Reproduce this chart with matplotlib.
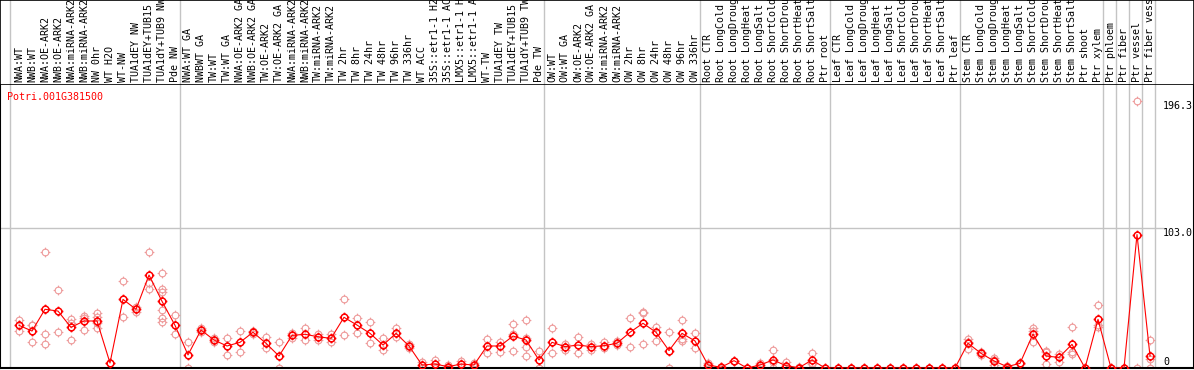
import matplotlib
matplotlib.use('Agg')
import matplotlib.pyplot as plt
from matplotlib.path import Path
import numpy as np

gene_id = 'Potri.001G381500'

labels = ['NWA:WT', 'NWB:WT', 'NWA:OE-ARK2', 'NWB:OE-ARK2', 'NWA:miRNA-ARK2', 'NWB:miRNA-ARK2',
          'NW 0hr', 'WT H2O', 'WT-NW', 'TUA1dEY NW', 'TUA1dEY+TUB15 NW', 'TUA1dY+TUB9 NW', 'Pde NW',
          'NWA:WT GA', 'NWBWT GA', 'TW:WT', 'TW:WT GA', 'NWA:OE-ARK2 GA', 'NWB:OE-ARK2 GA',
          'TW:OE-ARK2', 'TW:OE-ARK2 GA', 'NWA:miRNA-ARK2', 'NWB:miRNA-ARK2', 'TW:miRNA-ARK2',
          'TW:miRNA-ARK2', 'TW 2hr', 'TW 8hr', 'TW 24hr', 'TW 48hr', 'TW 96hr', 'TW 336hr', 'WT ACC',
          '35S::etr1-1 H2O', '35S::etr1-1 ACC', 'LMX5::etr1-1 H2O', 'LMX5::etr1-1 ACC', 'WT-TW',
          'TUA1dEY TW', 'TUA1dEY+TUB15 TW', 'TUA1dY+TUB9 TW', 'Pde TW',
          'OW:WT', 'OW:WT GA', 'OW:OE-ARK2', 'OW:OE-ARK2 GA', 'OW:miRNA-ARK2', 'OW:miRNA-ARK2',
          'OW 2hr', 'OW 8hr', 'OW 24hr', 'OW 48hr', 'OW 96hr', 'OW 336hr',
          'Root CTR', 'Root LongCold', 'Root LongDrought', 'Root LongHeat', 'Root LongSalt',
          'Root ShortCold', 'Root ShortDrought', 'Root ShortHeat', 'Root ShortSalt', 'Ptr root',
          'Leaf CTR', 'Leaf LongCold', 'Leaf LongDrought', 'Leaf LongHeat', 'Leaf LongSalt',
          'Leaf ShortCold', 'Leaf ShortDrought', 'Leaf ShortHeat', 'Leaf ShortSalt', 'Ptr leaf',
          'Stem CTR', 'Stem LongCold', 'Stem LongDrought', 'Stem LongHeat', 'Stem LongSalt',
          'Stem ShortCold', 'Stem ShortDrought', 'Stem ShortHeat', 'Stem ShortSalt', 'Ptr shoot',
          'Ptr xylem', 'Ptr phloem', 'Ptr fiber', 'Ptr vessel', 'Ptr fiber vessel']

# mean expression per sample (red line)
means = [31.4, 27.2, 43.2, 41.9, 29.9, 34.6, 34.6, 3.7, 50.5, 43.2, 68.4, 49.1, 31.4,
         9.6, 28.0, 20.6, 16.2, 18.9, 26.3, 18.2, 8.8, 24.0, 24.8, 23.0, 21.8, 37.3, 31.6,
         25.5, 16.9, 25.5, 16.2, 2.2, 2.9, 1.0, 2.9, 2.2, 16.2, 16.2, 23.5, 20.6, 5.9,
         18.9, 15.7, 16.9, 15.7, 16.4, 18.2, 26.3, 32.9, 26.3, 12.8, 25.5, 19.9,
         2.2, 0.5, 5.4, 0.0, 2.2, 5.9, 1.7, 0.2, 5.9, 0.0,
         0, 0, 0, 0, 0, 0, 0, 0, 0, 0,
         18.2, 10.8, 5.2, 1.0, 3.4, 25.0, 8.8, 7.8, 17.4, 0.0, 35.8, 0.0, 0.0, 98.2, 8.8]

# replicate values (pink circles)
reps = [[35.3, 31.4, 27.5], [31.4, 18.9, 31.4], [85.1, 24.8, 17.9], [57.4, 26.3],
        [36.0, 33.0, 20.6], [38.3, 36.5, 27.7], [40.7, 37.8, 33.0, 29.4], [3.7, 3.7],
        [64.0, 37.3], [44.7, 41.4], [85.1, 62.3, 57.9], [69.7, 57.9, 56.2, 42.7, 36.6, 33.6],
        [39.0, 24.8],
        [19.4, 0.0], [29.5, 26.5], [22.0, 19.2], [21.8, 9.6], [27.2, 11.5], [27.2, 24.8],
        [22.6, 14.5], [18.9, 0.0], [26.0, 22.0], [29.2, 20.6], [24.8, 20.3], [24.8, 19.0],
        [51.0, 24.0], [37.0, 25.5], [33.6, 18.2], [21.8, 13.2], [29.2, 22.6], [17.5, 14.5],
        [4.7, 0.0], [5.9, 0.0], [2.0, 0.0], [5.2, 0.7], [3.4, 1.0], [21.1, 10.8], [19.4, 12.0],
        [32.4, 12.5, 25.0], [35.3, 21.8, 15.7, 8.8], [12.8, 0.0],
        [29.2, 10.8], [15.7, 13.0, 18.0], [23.0, 10.8], [17.8, 13.0], [19.0, 14.5], [19.5, 17.0],
        [36.6, 15.7], [41.4, 40.2, 17.4], [30.4, 19.9], [26.5, 0.0], [35.3, 21.1, 20.1],
        [25.5, 14.5],
        [4.0, 0.4], [1.0, 0.0], [5.4, 5.4], [0.0, 0.0], [4.0, 0.5], [13.2, 0.0, 4.5],
        [4.7, 0.5], [0.5, 0.0], [10.8, 2.7, 4.0], [0.0],
        [0.0], [0.0], [0.0], [0.0], [0.0], [0.0], [0.0], [0.0], [0.0], [0.0],
        [19.4, 21.5, 13.7], [12.0, 9.6], [7.6, 2.2, 5.8], [1.5, 0.0], [4.0, 2.7],
        [29.2, 27.5, 19.4], [12.8, 11.5, 2.7], [10.3, 4.7], [30.4, 12.0, 10.3], [0.0],
        [46.1, 31.6, 30.4], [0.0], [0.0], [196.3, 0.0], [20.6, 6.4, 0.0]]

# group separators (column index positions)
seps = [-0.7, 12.42, 40.42, 52.42, 62.42, 72.42, 83.42, 84.42, 85.42, 86.42, 87.42]
yticks = [0, 103.0, 196.3]

W, H = 1194, 370
font = 'DejaVu Sans Mono'
red = '#ff0000'
pink = '#ee9a9a'
grey = '#c4c4c4'

# circle with four small ticks
tick = Path([(0, 1), (0, 1.45), (0, -1), (0, -1.45), (1, 0), (1.45, 0), (-1, 0), (-1.45, 0)],
            [Path.MOVETO, Path.LINETO] * 4)
mk = Path.make_compound_path(Path.unit_circle(), tick)

x = np.arange(len(labels))
xlim = (-19 / 13, (W - 19) / 13)

fig = plt.figure(figsize=(W / 100, H / 100), dpi=100)
ax_h = fig.add_axes([0, 285 / H, 1, 85 / H])
ax = fig.add_axes([0, 2 / H, 1, 283 / H])

# header with column names
ax_h.set_xlim(xlim)
ax_h.set_ylim(0, 1)
ax_h.set_xticks([])
ax_h.set_yticks([])
for s in ax_h.spines.values():
    s.set_color('black')
    s.set_linewidth(1.2)
for sx in seps:
    ax_h.axvline(sx, color=grey, lw=1.0, zorder=0)
for i, lab in enumerate(labels):
    ax_h.text(i, 0.03, lab, rotation=90, ha='center', va='bottom', fontsize=7.2,
              family=font, clip_on=True)

# expression plot
ax.set_xlim(xlim)
ax.set_ylim(0, 283 / 1.359)
ax.set_xticks([])
ax.set_yticks([])
ax.spines['top'].set_visible(False)
for k in ['left', 'bottom', 'right']:
    ax.spines[k].set_color('black')
    ax.spines[k].set_linewidth(1.5)
for sx in seps:
    ax.axvline(sx, color=grey, lw=1.0, zorder=0)
ax.axhline(yticks[1], xmax=1163 / W, color=grey, lw=1.0, zorder=0)

for i, r in enumerate(reps):
    ax.plot([i] * len(r), r, linestyle='none', marker=mk, markersize=7, markerfacecolor='none',
            markeredgecolor=pink, markeredgewidth=0.8, zorder=2)
ax.plot(x, means, color=red, lw=0.8, marker=mk, markersize=7, markerfacecolor='none',
        markeredgecolor=red, markeredgewidth=1.1, zorder=3)

ax.text(0.006, 0.958, gene_id, transform=ax.transAxes, color=red, fontsize=7.2, family=font,
        va='center', ha='left')
ax.text(88.0, yticks[2], '%.1f' % yticks[2], fontsize=7.2, family=font, va='top', ha='left')
ax.text(88.0, yticks[1], '%.1f' % yticks[1], fontsize=7.2, family=font, va='top', ha='left')
ax.text(88.0, 1.0, '0', fontsize=7.2, family=font, va='bottom', ha='left')

fig.savefig('out.png', dpi=100)
